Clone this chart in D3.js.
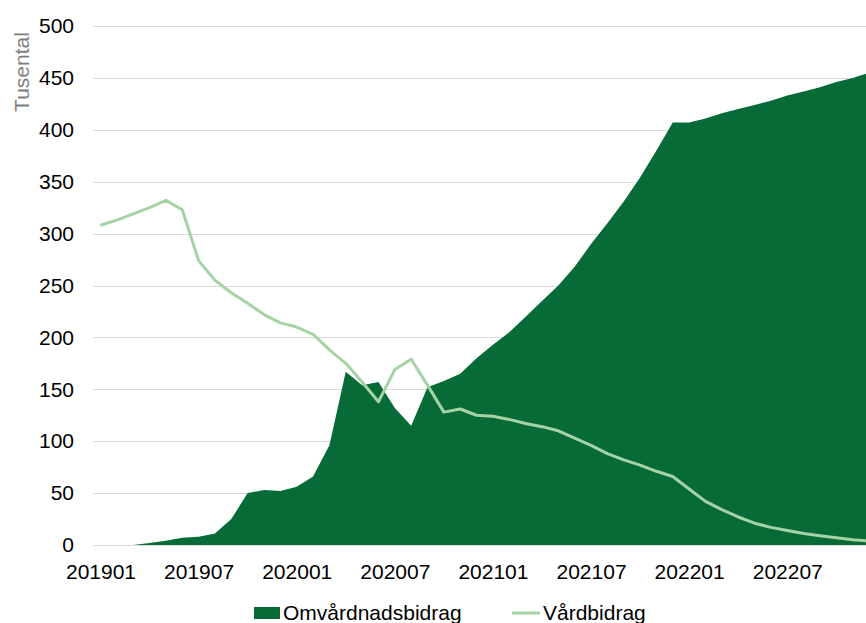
<!DOCTYPE html>
<html>
<head>
<meta charset="utf-8">
<script src="https://cdn.jsdelivr.net/npm/d3@7"></script>
<style>
  body { margin: 0; background: #fff; }
  svg { font-family: "Liberation Sans", Arial, sans-serif; display: block; }
</style>
</head>
<body>
<svg id="graph"></svg>
<script>
const graph = d3.select('#graph')

//set dimensions
const width = 866;
const height = 623;

// months 201901 .. 202212
const months = [];
for (let y = 2019; y <= 2022; y++) {
  for (let m = 1; m <= 12; m++) months.push(`${y}${String(m).padStart(2, '0')}`);
}

const omvardnad = [0, 0, 0, 2, 4, 7, 8, 11, 25, 50, 53, 52, 56, 66, 96, 167, 154, 157, 132, 115, 152, 158, 165, 180,
  193, 205, 220, 235, 250, 268, 290, 310, 331, 354, 380, 407, 407, 411, 416, 420, 424, 428, 433, 437, 441, 446, 450, 455];
const vardbidrag = [308, 313, 319, 325, 332, 323, 274, 255, 243, 233, 222, 214, 210, 203, 188, 175, 157, 138, 169, 179, 154, 128, 131, 125,
  124, 121, 117, 114, 110, 103, 96, 88, 82, 77, 71, 66, 54, 42, 34, 27, 21, 17, 14, 11, 9, 7, 5, 4];

const yTicks = [0, 50, 100, 150, 200, 250, 300, 350, 400, 450, 500];
const xTickLabels = ['201901', '201907', '202001', '202007', '202101', '202107', '202201', '202207'];

const data = months.map((m, i) => ({month: m, omv: omvardnad[i], vard: vardbidrag[i]}));

graph.attr('width', width).attr('height', height)

//set scales
const x_scale = d3.scalePoint().domain(months).range([100.5, 869])
const y_scale = d3.scaleLinear().domain([0, 500]).range([545, 26])

// gridlines
graph.append('g')
  .selectAll('line')
  .data(yTicks)
  .enter()
  .append('line')
  .attr('x1', 93)
  .attr('x2', width)
  .attr('y1', d => Math.round(y_scale(d)) + 0.5)
  .attr('y2', d => Math.round(y_scale(d)) + 0.5)
  .style('stroke', '#d9d9d9')
  .style('stroke-width', 1)

// area
const area = d3.area()
  .x(d => x_scale(d.month))
  .y0(y_scale(0))
  .y1(d => y_scale(d.omv))

graph.append('path')
  .datum(data)
  .attr('d', area)
  .style('fill', '#066b37')

// line
const line = d3.line()
  .x(d => x_scale(d.month))
  .y(d => y_scale(d.vard))

graph.append('path')
  .datum(data)
  .attr('d', line)
  .style('fill', 'none')
  .style('stroke', '#a6d3a6')
  .style('stroke-width', 3)
  .style('stroke-linejoin', 'round')

// y axis
const y_axis = d3.axisLeft(y_scale).tickValues(yTicks).tickSize(0).tickPadding(0)
const gy = graph.append('g')
  .attr('transform', 'translate(74,0)')
  .call(y_axis)
gy.select('.domain').remove()
gy.selectAll('text').style('font-size', '21px').style('fill', '#000').style('font-family', '"Liberation Sans", Arial, sans-serif')

// x axis
const x_axis = d3.axisBottom(x_scale).tickValues(xTickLabels).tickSize(0).tickPadding(0)
const gx = graph.append('g')
  .attr('transform', 'translate(0,564)')
  .call(x_axis)
gx.select('.domain').remove()
gx.selectAll('text').style('font-size', '21px').style('fill', '#000').style('font-family', '"Liberation Sans", Arial, sans-serif')

// y axis title
graph.append('text')
  .attr('transform', 'translate(29,72) rotate(-90)')
  .attr('text-anchor', 'middle')
  .style('font-size', '21px')
  .style('fill', '#7f7f7f')
  .text('Tusental')

// legend
const legend = graph.append('g')
legend.append('rect')
  .attr('x', 254).attr('y', 607)
  .attr('width', 26).attr('height', 12)
  .style('fill', '#066b37')
legend.append('text')
  .attr('x', 283).attr('y', 620)
  .style('font-size', '21px')
  .text('Omvårdnadsbidrag')
legend.append('line')
  .attr('x1', 512).attr('x2', 540)
  .attr('y1', 613).attr('y2', 613)
  .style('stroke', '#a6d3a6')
  .style('stroke-width', 3)
legend.append('text')
  .attr('x', 543).attr('y', 620)
  .style('font-size', '21px')
  .text('Vårdbidrag')
</script>
</body>
</html>
